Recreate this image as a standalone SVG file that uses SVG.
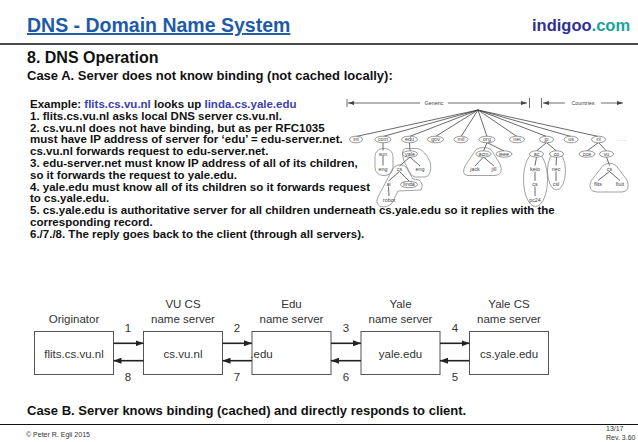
<svg xmlns="http://www.w3.org/2000/svg" width="638" height="442" viewBox="0 0 638 442">
<style>
text{font-family:"Liberation Sans",Arial,sans-serif}
.b{font-weight:bold}
.body{font-size:11.5px;font-weight:bold;fill:#111}
.hl{fill:#3b3fb0}
.t{font-size:5.4px;fill:#444;text-anchor:middle}
.tl{stroke:#444;stroke-width:0.8;fill:none}
.ov{fill:#fff;stroke:#555;stroke-width:0.6}
.zone{fill:none;stroke:#666;stroke-width:0.6}
.box{fill:#fff;stroke:#555;stroke-width:1}
.lbl{font-size:11.5px;fill:#333;text-anchor:middle}
.arr{stroke:#222;stroke-width:1.6;fill:none}
.ft{font-size:7px;fill:#333}
</style>
<defs>
<marker id="ah" markerWidth="8" markerHeight="6" refX="8" refY="3" orient="auto" markerUnits="userSpaceOnUse"><path d="M0,0 L8,3 L0,6 z" fill="#222"/></marker>
<marker id="sa" markerWidth="6" markerHeight="4" refX="6" refY="2" orient="auto" markerUnits="userSpaceOnUse"><path d="M0,0 L6,2 L0,4 z" fill="#444"/></marker>
</defs>
<rect width="638" height="442" fill="#fff"/>

<g id="header">
<text x="27" y="32" class="b" font-size="19.5" fill="#1f5aa8" text-decoration="underline">DNS - Domain Name System</text>
<text x="532" y="31" class="b" font-size="16.5"><tspan fill="#2e3192">indigoo</tspan><tspan fill="#1aa39a">.com</tspan></text>
<line x1="0" y1="44" x2="638" y2="44" stroke="#111" stroke-width="1.5"/>
<text x="27" y="63" class="b" font-size="16" fill="#111">8. DNS Operation</text>
<text x="27" y="79.5" class="b" font-size="13" fill="#111">Case A. Server does not know binding (not cached locally):</text>
</g>

<g id="steps" class="body">
<text x="30" y="108" class="body">Example: <tspan class="hl">flits.cs.vu.nl</tspan> looks up <tspan class="hl">linda.cs.yale.edu</tspan></text>
<text x="30" y="119.8" class="body">1. flits.cs.vu.nl asks local DNS server cs.vu.nl.</text>
<text x="30" y="131.6" class="body">2. cs.vu.nl does not have binding, but as per RFC1035</text>
<text x="30" y="143.4" class="body">must have IP address of server for ‘edu’ = edu-server.net.</text>
<text x="30" y="155.2" class="body">cs.vu.nl forwards request to edu-server.net.</text>
<text x="30" y="167" class="body">3. edu-server.net must know IP address of all of its children,</text>
<text x="30" y="178.8" class="body">so it forwards the request to yale.edu.</text>
<text x="30" y="190.6" class="body">4. yale.edu must know all of its children so it forwards request</text>
<text x="30" y="202.4" class="body">to cs.yale.edu.</text>
<text x="30" y="214.2" class="body">5. cs.yale.edu is authoritative server for all children underneath cs.yale.edu so it replies with the</text>
<text x="30" y="226" class="body">corresponding record.</text>
<text x="30" y="237.8" class="body">6./7./8. The reply goes back to the client (through all servers).</text>
</g>

<g id="tree">
<g id="tree-scale">
<line x1="347" y1="99" x2="347" y2="107" class="tl"/>
<line x1="420" y1="103" x2="348" y2="103" class="tl" marker-end="url(#sa)"/>
<text x="434" y="105" class="t">Generic</text>
<line x1="448" y1="103" x2="527" y2="103" class="tl" marker-end="url(#sa)"/>
<line x1="529.5" y1="98" x2="529.5" y2="108" class="tl"/>
<line x1="541.5" y1="98" x2="541.5" y2="108" class="tl"/>
<line x1="565" y1="103" x2="543" y2="103" class="tl" marker-end="url(#sa)"/>
<text x="583" y="105" class="t">Countries</text>
<line x1="601" y1="103" x2="623" y2="103" class="tl" marker-end="url(#sa)"/>
</g>
<g id="tree-edges">
<path class="tl" d="M478,110 L356,136.5 M478,110 L383,136.5 M478,110 L409.5,136.5 M478,110 L435.5,136.5 M478,110 L461,136.5 M478,110 L487,136.5 M478,110 L517,136.5 M478,110 L546.5,136.5 M478,110 L571,136.5 M478,110 L598.5,136.5"/>
<path class="tl" d="M383,142.5 L383,150.5 M409.5,142.5 L410,151 M487,142.5 L483.5,151 M487,142.5 L504,151 M546.5,142.5 L536.5,151 M546.5,142.5 L556.5,151 M598.5,142.5 L587,151 M598.5,142.5 L606.5,151"/>
<path class="tl" d="M383,156 L383,165.5 M410,157 L399.5,166 M410,157 L420,166 M483.5,157 L475,166 M483.5,157 L494,166 M536.5,157 L535,165.5 M556.5,157 L556,165.5 M606.5,157 L609.5,165.5"/>
<path class="tl" d="M399.5,171.5 L388.5,181 M399.5,171.5 L409,181 M535,171.5 L535,181 M556,171.5 L556,181 M609.5,171.5 L598,180.5 M609.5,171.5 L620,180.5"/>
<path class="tl" d="M388.5,186.5 L389,196 M535,186.5 L535,196"/>
</g>
<g id="tree-zones">
<rect x="375" y="148.5" width="18" height="27" rx="8" class="zone"/>
<path class="zone" d="M405,148.5 L417,148.5 Q422,149 427,156 L430.5,163 Q432,176 425,177 L415,177 Q411,176.5 409,171 L403.5,160 Q401,150 405,148.5 Z"/>
<path class="zone" d="M395,166.5 Q401,162.5 406,167 L413,179 L419,180 Q424,184 421,190 L398,191 L392,203 Q388,208 380,206.5 Q375,203 378,197 L390,174 Q392,168 395,166.5 Z"/>
<path class="zone" d="M476,149.5 Q484,145.5 491,149.5 L500,164 Q504,175 495,175.5 L468,175.5 Q461,175 465,166 Z"/>
<ellipse cx="535.5" cy="179.5" rx="12" ry="27" class="zone"/>
<ellipse cx="556.5" cy="171" rx="9" ry="19" class="zone"/>
<path class="zone" d="M603,165.5 Q609.5,161 616,165.5 L627,180 Q631,191.5 622,192 L597,192 Q587,191.5 591,181 Z"/>
</g>
<g id="tree-nodes">
<ellipse cx="356" cy="139.5" rx="6.5" ry="3.3" class="ov"/><text x="356" y="141.4" class="t">int</text>
<ellipse cx="383" cy="139.5" rx="8" ry="3.3" class="ov"/><text x="383" y="141.4" class="t">com</text>
<ellipse cx="409.5" cy="139.5" rx="8" ry="3.3" class="ov"/><text x="409.5" y="141.4" class="t">edu</text>
<ellipse cx="435.5" cy="139.5" rx="8" ry="3.3" class="ov"/><text x="435.5" y="141.4" class="t">gov</text>
<ellipse cx="461" cy="139.5" rx="7" ry="3.3" class="ov"/><text x="461" y="141.4" class="t">mil</text>
<ellipse cx="487" cy="139.5" rx="8" ry="3.3" class="ov"/><text x="487" y="141.4" class="t">org</text>
<ellipse cx="517" cy="139.5" rx="7.5" ry="3.3" class="ov"/><text x="517" y="141.4" class="t">net</text>
<ellipse cx="546.5" cy="139.5" rx="7" ry="3.3" class="ov"/><text x="546.5" y="141.4" class="t">jp</text>
<ellipse cx="571" cy="139.5" rx="7" ry="3.3" class="ov"/><text x="571" y="141.4" class="t">us</text>
<ellipse cx="598.5" cy="139.5" rx="7" ry="3.3" class="ov"/><text x="598.5" y="141.4" class="t">nl</text>
<text x="622" y="141.4" class="t">. . .</text>
<text x="383" y="155.9" class="t">sun</text>
<ellipse cx="410" cy="154" rx="7.5" ry="3.2" class="ov"/><text x="410" y="155.9" class="t">yale</text>
<ellipse cx="483.5" cy="154" rx="7.5" ry="3.2" class="ov"/><text x="483.5" y="155.9" class="t">acm</text>
<ellipse cx="504" cy="154" rx="8" ry="3.2" class="ov"/><text x="504" y="155.9" class="t">ieee</text>
<ellipse cx="536.5" cy="154" rx="7" ry="3.2" class="ov"/><text x="536.5" y="155.9" class="t">ac</text>
<ellipse cx="556.5" cy="154" rx="7" ry="3.2" class="ov"/><text x="556.5" y="155.9" class="t">co</text>
<ellipse cx="587" cy="154" rx="8" ry="3.2" class="ov"/><text x="587" y="155.9" class="t">oce</text>
<ellipse cx="606.5" cy="154" rx="7" ry="3.2" class="ov"/><text x="606.5" y="155.9" class="t">vu</text>
<text x="383" y="171.4" class="t">eng</text>
<text x="399.5" y="171.4" class="t">cs</text>
<text x="420" y="171.4" class="t">eng</text>
<text x="475" y="171.4" class="t">jack</text>
<text x="494" y="171.4" class="t">jill</text>
<text x="535" y="171.4" class="t">keio</text>
<text x="556" y="171.4" class="t">nec</text>
<text x="609.5" y="171.4" class="t">cs</text>
<text x="388.5" y="186.4" class="t">ai</text>
<ellipse cx="409" cy="184.5" rx="8.5" ry="3.2" class="ov"/><text x="409" y="186.4" class="t">linda</text>
<text x="535" y="186.4" class="t">cs</text>
<text x="556" y="186.4" class="t">csl</text>
<text x="598" y="186.4" class="t">flits</text>
<text x="620" y="186.4" class="t">fluit</text>
<text x="389" y="201.9" class="t">robot</text>
<text x="535" y="201.9" class="t">pc24</text>
</g>
</g>

<g id="flow-labels">
<text x="74" y="322.5" class="lbl">Originator</text>
<text x="183" y="307.5" class="lbl">VU CS</text>
<text x="183" y="322.5" class="lbl">name server</text>
<text x="291.5" y="307.5" class="lbl">Edu</text>
<text x="291.5" y="322.5" class="lbl">name server</text>
<text x="400.5" y="307.5" class="lbl">Yale</text>
<text x="400.5" y="322.5" class="lbl">name server</text>
<text x="509" y="307.5" class="lbl">Yale CS</text>
<text x="509" y="322.5" class="lbl">name server</text>
</g>
<g id="node-originator"><rect x="34.5" y="331.5" width="79" height="43" class="box"/><text x="74" y="358" class="lbl">flits.cs.vu.nl</text></g>
<g id="node-vucs"><rect x="143.5" y="331.5" width="79" height="43" class="box"/><text x="183" y="358" class="lbl">cs.vu.nl</text></g>
<g id="node-edu"><rect x="252" y="331.5" width="79" height="43" class="box"/><text x="261.5" y="358" class="lbl" text-anchor="start">.edu</text></g>
<g id="node-yale"><rect x="361" y="331.5" width="79" height="43" class="box"/><text x="400.5" y="358" class="lbl">yale.edu</text></g>
<g id="node-yalecs"><rect x="469.5" y="331.5" width="79" height="43" class="box"/><text x="509" y="358" class="lbl">cs.yale.edu</text></g>

<g id="connectors">
<line x1="113.5" y1="343.3" x2="143.5" y2="343.3" class="arr" marker-end="url(#ah)"/>
<line x1="143.5" y1="360.7" x2="113.5" y2="360.7" class="arr" marker-end="url(#ah)"/>
<line x1="222.5" y1="343.3" x2="252" y2="343.3" class="arr" marker-end="url(#ah)"/>
<line x1="252" y1="360.7" x2="222.5" y2="360.7" class="arr" marker-end="url(#ah)"/>
<line x1="331" y1="343.3" x2="361" y2="343.3" class="arr" marker-end="url(#ah)"/>
<line x1="361" y1="360.7" x2="331" y2="360.7" class="arr" marker-end="url(#ah)"/>
<line x1="440" y1="343.3" x2="469.5" y2="343.3" class="arr" marker-end="url(#ah)"/>
<line x1="469.5" y1="360.7" x2="440" y2="360.7" class="arr" marker-end="url(#ah)"/>
<text x="128" y="331.8" class="lbl">1</text>
<text x="128" y="380.8" class="lbl">8</text>
<text x="237" y="331.8" class="lbl">2</text>
<text x="237" y="380.8" class="lbl">7</text>
<text x="346" y="331.8" class="lbl">3</text>
<text x="346" y="380.8" class="lbl">6</text>
<text x="455" y="331.8" class="lbl">4</text>
<text x="455" y="380.8" class="lbl">5</text>
</g>

<g id="footer">
<text x="27" y="415" class="b" font-size="13" fill="#111">Case B. Server knows binding (cached) and directly responds to client.</text>
<line x1="0" y1="424.5" x2="638" y2="424.5" stroke="#111" stroke-width="1.2"/>
<text x="26" y="436.5" class="ft">© Peter R. Egli 2015</text>
<text x="606" y="431" class="ft">13/17</text>
<text x="606" y="440" class="ft">Rev. 3.60</text>
</g>
</svg>
